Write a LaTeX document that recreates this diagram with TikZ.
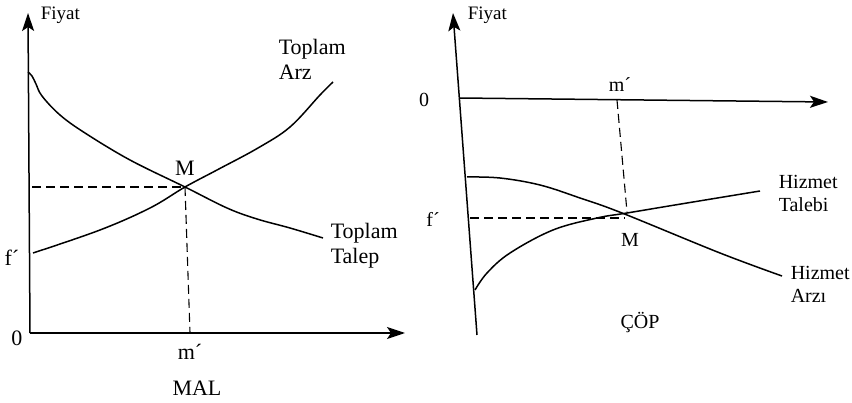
\documentclass[tikz,border=0pt]{standalone}
\usepackage{fontspec}
\setmainfont{Liberation Serif}
\usetikzlibrary{arrows.meta}
\begin{document}
\begin{tikzpicture}[x=1pt, y=-1pt, line width=1.5pt,
        axis/.style={-{Stealth[length=18pt, width=12pt, inset=4pt]}},
        guide/.style={line width=1.1pt, dash pattern=on 9pt off 5pt},
        curve/.style={smooth, tension=0.6},
        lbl/.style={inner sep=0pt, font=\fontsize{22}{25}\selectfont, align=left},
        rlbl/.style={inner sep=0pt, font=\fontsize{20}{23}\selectfont, align=left},
        axlbl/.style={inner sep=0pt, font=\fontsize{19}{22}\selectfont}
    ]
    \useasboundingbox (0,0) rectangle (852,403);

    % MAL panel: axes
    \coordinate (O1) at (30,333);
    \coordinate (Y1) at (28,13);
    \coordinate (X1) at (405,333);
    \coordinate (M1) at (185,187);
    \coordinate (m1) at (190,333);
    \coordinate (f1) at (32,187);
    \draw[axis] (O1) -- (Y1);
    \draw[axis] (O1) -- (X1);
    \draw[guide] (f1) -- (M1);
    \draw[guide] (M1) -- (m1);

    % Toplam Talep
    \draw plot[curve] coordinates {(28,72) (32,76) (36,84) (42,96) (60,115) (85,133)
        (130,160) (185,187) (227,208) (257,219) (290,228) (323,238)};
    % Toplam Arz
    \draw plot[curve] coordinates {(33,253) (100,230) (150,208) (185,187)
        (217,170) (258,148) (290,127) (320,95) (333,82)};

    \node[axlbl, anchor=west] (fiyat1) at (40,15) {Fiyat};
    \node[lbl] (zero1) at (17,338) {0};
    \node[lbl] (f1lbl) at (12,258) {f´};
    \node[lbl] (m1lbl) at (190,352) {m´};
    \node[lbl] (mal) at (197,388) {MAL};
    \node[lbl] (M1lbl) at (185,168) {M};
    \node[lbl, anchor=west] (arz) at (278,59) {Toplam\\Arz};
    \node[lbl, anchor=west] (talep) at (330,246) {Toplam\\Talep};

    % ÇÖP panel: axes
    \coordinate (O2) at (459,98);
    \coordinate (Y2) at (453,13);
    \coordinate (B2) at (477,335);
    \coordinate (X2) at (828,102);
    \coordinate (M2) at (622,213);
    \coordinate (m2) at (617,100);
    \coordinate (v2) at (627,212);
    \coordinate (f2) at (470,218);
    \coordinate (h2) at (625,218);
    \draw[axis] (B2) -- (Y2);
    \draw[axis] (O2) -- (X2);
    \draw[guide] (m2) -- (v2);
    \draw[guide] (f2) -- (h2);

    % Hizmet Arzi
    \draw plot[curve] coordinates {(467,177) (500,178) (540,185) (580,198)
        (622,213) (720,253) (782,276)};
    % Hizmet Talebi
    \draw plot[curve] coordinates {(475,290) (487,273) (510,253) (553,230)
        (597,218) (627,213) (687,203) (760,191)};

    \node[axlbl, anchor=west] (fiyat2) at (467,15) {Fiyat};
    \node[rlbl] (zero2) at (424,100) {0};
    \node[rlbl] (m2lbl) at (620,85) {m´};
    \node[rlbl] (f2lbl) at (433,219) {f´};
    \node[rlbl] (M2lbl) at (630,240) {M};
    \node[rlbl, anchor=west] (talebi) at (778,193) {Hizmet\\Talebi};
    \node[rlbl, anchor=west] (arzi) at (790,284) {Hizmet\\Arzı};
    \node[rlbl] (cop) at (640,323) {ÇÖP};

\end{tikzpicture}
\end{document}
